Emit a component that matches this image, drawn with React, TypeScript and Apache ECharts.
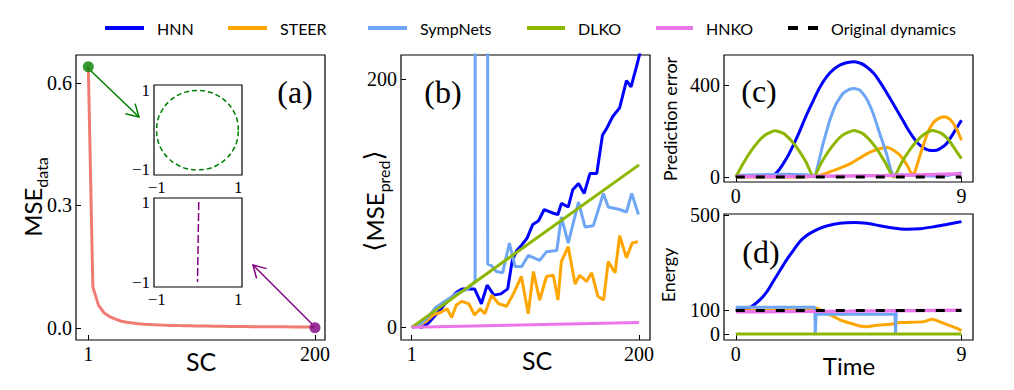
import React, { useEffect, useRef } from 'react';
import * as echarts from 'echarts';

const SANS = 'Lato, "DejaVu Sans", sans-serif';
const SERIF = '"Liberation Serif", "DejaVu Serif", serif';

const C_HNN = '#0000ff';
const C_STEER = '#ffa500';
const C_SYMP = '#6ea6f5';
const C_DLKO = '#8db600';
const C_HNKO = '#ea75ea';
const C_ORIG = '#000000';
const C_MSE = '#f07b72';

// ---------- panel (a) ----------
const scA = [1, 5, 10, 15, 20, 25, 30, 35, 40, 45, 50, 55, 60, 65, 70, 75, 80, 85, 90, 95, 100,
  105, 110, 115, 120, 125, 130, 135, 140, 145, 150, 155, 160, 165, 170, 175, 180, 185, 190, 195, 200];
const mseData = [0.64, 0.1, 0.055, 0.036, 0.027, 0.021, 0.016, 0.0135, 0.0115, 0.01, 0.0088, 0.008, 0.0073,
  0.0067, 0.0062, 0.0058, 0.0054, 0.0051, 0.0048, 0.0045, 0.0043, 0.0041, 0.0039, 0.0037, 0.0035, 0.0033,
  0.0032, 0.003, 0.0029, 0.0028, 0.0027, 0.0026, 0.0025, 0.0024, 0.0023, 0.0022, 0.0021, 0.002, 0.002, 0.0019, 0.0018];
const markerStart: [number, number] = [1, 0.64];
const markerEnd: [number, number] = [200, 0.0];
const insetCircle: [number, number][] = [[1, 0], [0.97, 0.26], [0.87, 0.5], [0.71, 0.71], [0.5, 0.87], [0.26, 0.97],
  [0, 1], [-0.26, 0.97], [-0.5, 0.87], [-0.71, 0.71], [-0.87, 0.5], [-0.97, 0.26], [-1, 0], [-0.97, -0.26],
  [-0.87, -0.5], [-0.71, -0.71], [-0.5, -0.87], [-0.26, -0.97], [0, -1], [0.26, -0.97], [0.5, -0.87],
  [0.71, -0.71], [0.87, -0.5], [0.97, -0.26], [1, 0]];
const insetLine: [number, number][] = [[0.03, 1.0], [0.0, -1.0]];

// ---------- panel (b) ----------
const hnnMse: [number, number][] = [[1, 0], [5, 1], [10, 0], [15, 3], [19, 7], [26, 14], [30, 19], [35, 23], [40, 28],
  [45, 31], [52, 31], [56, 31], [58, 27], [62, 19], [67, 34], [73, 26], [79, 27], [85, 31], [89, 54], [93, 62],
  [97, 66], [102, 72], [107, 83], [112, 86], [117, 95], [125, 92], [129, 91], [132, 100], [138, 97], [142, 111],
  [147, 116], [152, 108], [157, 124], [163, 124], [168, 155], [172, 161], [177, 170], [183, 177], [189, 199],
  [193, 194], [198, 211], [201, 222]];
const steerMse: [number, number][] = [[1, 0], [8, 2], [14, 5], [20, 10], [26, 12], [32, 15], [36, 8], [40, 18],
  [45, 21], [51, 19], [56, 10], [61, 15], [65, 11], [71, 26], [77, 19], [84, 17], [90, 27], [97, 41], [103, 11],
  [107.5, 45], [113, 22], [119, 41], [125, 42], [129, 22], [132, 53], [138, 65], [144, 35], [148, 42], [154, 37],
  [158.6, 44], [164, 25], [169, 22], [173, 53], [179, 44], [183, 74], [189, 56], [194, 68], [199, 69]];
const sympMse: [number, number][] = [[1, 0], [9, 3], [15, 8], [22, 16], [30, 21], [40, 27], [50, 31], [56.5, 37],
  [57, 3000], [67, 3000], [67.5, 51], [70.5, 50], [75, 45], [80.6, 44], [86.5, 68], [91.5, 49], [97.3, 49],
  [103, 58], [113, 54], [119, 61], [128, 62], [132, 89], [138, 68], [147, 101], [152.7, 81], [160, 82],
  [168.8, 108], [173, 97], [183, 95], [189, 93], [193.6, 108], [199.5, 91]];
const dlkoMse: [number, number][] = [[1, 0], [200, 131]];
const hnkoMse: [number, number][] = [[1, 0], [200, 4]];

// ---------- panel (c) ----------
const hnnErr: [number, number][] = [[0, 3], [0.8, 5], [1.5, 9], [1.75, 35], [2.02, 80], [2.3, 140], [2.55, 200],
  [2.8, 265], [3.08, 330], [3.35, 390], [3.62, 436], [3.9, 468], [4.15, 487], [4.45, 498], [4.72, 502], [5.0, 494],
  [5.21, 480], [5.5, 452], [5.74, 415], [6.0, 370], [6.27, 320], [6.55, 268], [6.81, 218], [7.0, 185], [7.21, 153],
  [7.4, 133], [7.6, 120], [7.8, 115], [8.0, 116], [8.2, 127], [8.4, 145], [8.67, 189], [9.0, 247]];
const steerErr: [number, number][] = [[0, 0], [2, 0], [3.11, 2], [3.5, 12], [3.91, 29], [4.3, 45], [4.57, 58],
  [4.9, 80], [5.24, 102], [5.5, 115], [5.77, 124], [6.0, 128], [6.17, 124], [6.4, 108], [6.6, 88], [6.84, 50],
  [7.04, 10], [7.15, 25], [7.37, 102], [7.64, 189], [7.85, 232], [8.04, 252], [8.33, 262], [8.55, 250],
  [8.8, 210], [9.0, 160]];
const sympErr: [number, number][] = [[0, 7], [1, 10], [2, 12], [2.8, 10], [3.12, 6], [3.48, 145], [3.75, 247],
  [4.01, 320], [4.28, 364], [4.55, 383], [4.72, 385], [4.95, 378], [5.21, 342], [5.48, 276], [5.74, 189],
  [6.01, 102], [6.27, 12], [7, 8], [8, 4], [8.5, 8], [9, 17]];
const dlkoErr: [number, number][] = [[0, 0], [0.3, 60], [0.6, 112], [0.9, 155], [1.2, 185], [1.56, 201], [1.9, 190],
  [2.2, 160], [2.5, 118], [2.8, 65], [3.11, 0], [3.4, 60], [3.7, 112], [4.0, 155], [4.3, 185], [4.71, 202],
  [5.05, 190], [5.35, 160], [5.65, 118], [5.95, 65], [6.3, 0], [6.6, 60], [6.9, 112], [7.2, 155], [7.5, 185],
  [7.85, 202], [8.2, 190], [8.5, 160], [8.75, 120], [9.0, 80]];
const hnkoErr: [number, number][] = [[0, 2], [3, 3], [6, 6], [9, 14]];
const origErr: [number, number][] = [[0, 0], [9, 0]];

// ---------- panel (d) ----------
const hnnEng: [number, number][] = [[0, 102], [0.56, 113], [0.96, 144], [1.25, 180], [1.49, 221], [1.75, 265],
  [2.02, 311], [2.3, 352], [2.55, 388], [2.8, 412], [3.08, 430], [3.35, 444], [3.62, 454], [4.15, 465],
  [4.72, 468], [5.21, 465], [5.74, 455], [6.27, 445], [6.81, 440], [7.34, 442], [7.87, 450], [8.4, 460], [9, 472]];
const steerEng: [number, number][] = [[0, 100], [3.1, 104], [3.2, 110], [3.5, 95], [3.91, 74], [4.2, 58], [4.57, 46],
  [4.9, 36], [5.24, 32], [5.5, 36], [5.77, 39], [6.17, 42], [6.57, 49], [6.97, 50], [7.5, 53], [7.83, 63],
  [8.3, 46], [8.83, 25], [9.0, 15]];
const sympEng: [number, number][] = [[0, 113], [3.15, 113], [3.17, 0], [3.2, 84], [6.35, 84], [6.37, 0],
  [6.4, 100], [9, 100]];
const dlkoEng: [number, number][] = [[0, 1], [9, 1]];
const hnkoEng: [number, number][] = [[0, 94], [4.5, 97], [9, 101]];
const origEng: [number, number][] = [[0, 100], [9, 100]];

const legendNames = ['HNN', 'STEER', 'SympNets', 'DLKO', 'HNKO', 'Original dynamics'];
const legendColors = [C_HNN, C_STEER, C_SYMP, C_DLKO, C_HNKO, C_ORIG];

function mkGrid(left: number, top: number, width: number, height: number, extra: any = {}) {
  return {
    left, top, width, height, show: true, borderColor: '#000', borderWidth: 1.2,
    backgroundColor: 'transparent', containLabel: false, outerBoundsMode: 'none', ...extra,
  };
}

function mkAxis(gridIndex: number, min: number, max: number, ticks: number[], fmt?: (v: number) => string,
  fontSize = 20, tickLen = 5) {
  return {
    type: 'value', gridIndex, min, max,
    axisLine: { show: false, onZero: false },
    splitLine: { show: false },
    axisTick: { show: true, inside: true, length: tickLen, customValues: ticks, lineStyle: { color: '#000', width: 1 } },
    axisLabel: {
      show: true, customValues: ticks, margin: 4, color: '#000', fontFamily: SERIF, fontSize,
      formatter: fmt ? (v: number) => fmt(v) : (v: number) => String(v),
    },
  };
}

function line(xi: number, data: any[], color: string, width = 3, extra: any = {}) {
  return {
    type: 'line', xAxisIndex: xi, yAxisIndex: xi, data, showSymbol: false, symbol: 'none',
    lineStyle: { color, width }, itemStyle: { color }, clip: true, animation: false, ...extra,
  };
}

const insetFmt = (v: number) => (v < 0 ? '\u22121' : '1');

function buildOption() {
  const graphic: any[] = [];
  // legend
  const legendHandles = [[105, 144], [228, 267], [368, 407], [527, 565], [656, 693], [788, 818]];
  legendNames.forEach((name, i) => {
    const [x1, x2] = legendHandles[i];
    if (i === 5) {
      graphic.push({ type: 'line', shape: { x1, y1: 28, x2, y2: 28 }, style: { stroke: C_ORIG, lineWidth: 4, lineDash: [10, 10] } });
    } else {
      graphic.push({ type: 'line', shape: { x1, y1: 28, x2, y2: 28 }, style: { stroke: legendColors[i], lineWidth: 4 } });
    }
    graphic.push({
      type: 'text', x: x2 + 13, y: 28,
      style: { text: name, fill: '#000', font: `16px ${SANS}`, align: 'left', verticalAlign: 'middle' },
    });
  });
  // axis titles
  const rotTitle = (x: number, y: number, rich: string, richStyles: any) => ({
    type: 'text', x, y, rotation: Math.PI / 2,
    style: { text: rich, rich: richStyles, align: 'center', verticalAlign: 'middle', fill: '#000' },
  });
  graphic.push(rotTitle(32, 197, '{m|MSE}{s|data}', {
    m: { fontFamily: SANS, fontSize: 24, lineHeight: 34, fill: '#000' },
    s: { fontFamily: SANS, fontSize: 16, lineHeight: 16, verticalAlign: 'bottom', fill: '#000' },
  }));
  graphic.push(rotTitle(374, 201, '{b|\u27E8}{m|MSE}{s|pred}{b|\u27E9}', {
    b: { fontFamily: '"DejaVu Sans", sans-serif', fontSize: 26, lineHeight: 34, fill: '#000' },
    m: { fontFamily: SANS, fontSize: 24, lineHeight: 34, fill: '#000' },
    s: { fontFamily: SANS, fontSize: 16, lineHeight: 16, verticalAlign: 'bottom', fill: '#000' },
  }));
  graphic.push(rotTitle(670, 119, 'Prediction error', {}));
  graphic[graphic.length - 1].style.font = `18px ${SANS}`;
  graphic.push(rotTitle(668, 275, 'Energy', {}));
  graphic[graphic.length - 1].style.font = `18px ${SANS}`;
  const hText = (x: number, y: number, text: string, font: string) => ({
    type: 'text', x, y, style: { text, font, fill: '#000', align: 'center', verticalAlign: 'middle' },
  });
  graphic.push(hText(201, 361, 'SC', `25px ${SANS}`));
  graphic.push(hText(537, 360, 'SC', `25px ${SANS}`));
  graphic.push(hText(849, 365, 'Time', `24px ${SANS}`));
  graphic.push(hText(295, 92, '(a)', `32px ${SERIF}`));
  graphic.push(hText(443, 92, '(b)', `32px ${SERIF}`));
  graphic.push(hText(759, 91, '(c)', `32px ${SERIF}`));
  graphic.push(hText(761, 252, '(d)', `32px ${SERIF}`));
  // arrows (annotation)
  graphic.push({ type: 'line', z: 20, shape: { x1: 91, y1: 71, x2: 139, y2: 117 }, style: { stroke: 'green', lineWidth: 1.5 } });
  graphic.push({ type: 'polyline', z: 20, shape: { points: [[125.4, 113.7], [139, 117], [135.1, 103.6]] }, style: { stroke: 'green', lineWidth: 1.5, fill: null } });
  graphic.push({ type: 'line', z: 20, shape: { x1: 312, y1: 324, x2: 253, y2: 265 }, style: { stroke: 'purple', lineWidth: 1.5 } });
  graphic.push({ type: 'polyline', z: 20, shape: { points: [[266.5, 268.6], [253, 265], [256.6, 278.5]] }, style: { stroke: 'purple', lineWidth: 1.5, fill: null } });

  return {
    animation: false,
    backgroundColor: '#fff',
    grid: [
      mkGrid(76, 55, 249, 285),
      mkGrid(154, 85, 88, 90, { backgroundColor: '#fff', z: 3 }),
      mkGrid(154, 198, 88, 89, { backgroundColor: '#fff', z: 3 }),
      mkGrid(401, 55, 249, 285),
      mkGrid(724, 55, 249, 127),
      mkGrid(724, 214, 249, 126),
    ],
    xAxis: [
      mkAxis(0, -9.8, 208.8, [1, 200]),
      mkAxis(1, -1.066, 1.09, [-1, 1], insetFmt, 17, 4),
      mkAxis(2, -1.066, 1.09, [-1, 1], insetFmt, 17, 4),
      mkAxis(3, -8.4, 209.6, [1, 200]),
      mkAxis(4, -0.47, 9.46, [0, 9]),
      mkAxis(5, -0.47, 9.46, [0, 9]),
    ],
    yAxis: [
      mkAxis(0, -0.03, 0.669, [0, 0.3, 0.6], (v) => v.toFixed(1)),
      mkAxis(1, -1.13, 1.14, [-1, 1], insetFmt, 17, 4),
      mkAxis(2, -1.125, 1.1, [-1, 1], insetFmt, 17, 4),
      mkAxis(3, -10.2, 219.6, [0, 200]),
      mkAxis(4, -21.8, 531, [0, 400]),
      mkAxis(5, -24, 504, [0, 100, 500]),
    ],
    graphic,
    series: [
      line(0, scA.map((x, i) => [x, mseData[i]]), C_MSE, 3),
      { type: 'scatter', xAxisIndex: 0, yAxisIndex: 0, data: [markerStart], symbolSize: 11, itemStyle: { color: 'green' }, z: 5, clip: false },
      { type: 'scatter', xAxisIndex: 0, yAxisIndex: 0, data: [markerEnd], symbolSize: 11, itemStyle: { color: 'purple' }, z: 5, clip: false },
      line(1, insetCircle, 'green', 1.5, { smooth: true, lineStyle: { color: 'green', width: 1.5, type: [5, 3] }, z: 4 }),
      line(2, insetLine, 'purple', 1.5, { lineStyle: { color: 'purple', width: 1.5, type: [8, 3] }, z: 4 }),

      line(3, hnnMse, C_HNN, 3),
      line(3, steerMse, C_STEER, 3),
      line(3, sympMse, C_SYMP, 3),
      line(3, dlkoMse, C_DLKO, 3),
      line(3, hnkoMse, C_HNKO, 3),

      line(4, hnnErr, C_HNN, 3, { smooth: 0.3 }),
      line(4, steerErr, C_STEER, 3, { smooth: 0.2 }),
      line(4, sympErr, C_SYMP, 3, { smooth: 0.15 }),
      line(4, dlkoErr, C_DLKO, 3, { smooth: 0.2 }),
      line(4, hnkoErr, C_HNKO, 3.5, { smooth: 0.3 }),
      line(4, origErr, C_ORIG, 3, { lineStyle: { color: C_ORIG, width: 3, type: [9, 11] } }),

      line(5, hnnEng, C_HNN, 3, { smooth: 0.3 }),
      line(5, steerEng, C_STEER, 3, { smooth: 0.15 }),
      line(5, sympEng, C_SYMP, 3),
      line(5, dlkoEng, C_DLKO, 3),
      line(5, hnkoEng, C_HNKO, 3.5),
      line(5, origEng, C_ORIG, 3, { lineStyle: { color: C_ORIG, width: 3, type: [9, 11] } }),
    ],
  };
}

export default function App() {
  const ref = useRef<HTMLDivElement>(null);
  useEffect(() => {
    document.body.style.margin = '0';
    const chart = echarts.init(ref.current!, undefined, { renderer: 'svg', width: 1014, height: 390 });
    chart.setOption(buildOption() as any);
    return () => chart.dispose();
  }, []);
  return <div ref={ref} style={{ width: 1014, height: 390, position: 'absolute', left: 0, top: 0, background: '#fff' }} />;
}
